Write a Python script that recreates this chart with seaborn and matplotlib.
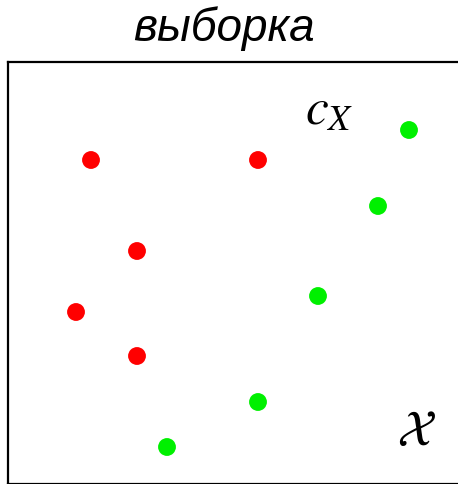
import matplotlib
matplotlib.use("Agg")
import matplotlib.pyplot as plt
import seaborn as sns
import pandas as pd

sns.set_style("white")
plt.rcParams['mathtext.fontset'] = 'stix'
plt.rcParams['text.color'] = 'black'

red_x = [91, 258, 137, 76, 137]
red_y = [161, 161, 252, 313, 357]
green_x = [409, 378, 318, 258, 167]
green_y = [131, 207, 297, 403, 448]

df = pd.DataFrame({
    "x": red_x + green_x,
    "y": red_y + green_y,
    "cls": ["red"] * len(red_x) + ["green"] * len(green_x),
})

W, H = 458, 485
fig = plt.figure(figsize=(W / 100, H / 100), dpi=100)
ax = fig.add_axes([8 / W, 0 / H, 456 / W, (485 - 63) / H])

sns.scatterplot(data=df, x="x", y="y", hue="cls",
                palette={"red": "#ff0000", "green": "#00f000"},
                s=165, edgecolor="none", legend=False, ax=ax)

ax.set_xlim(8, 464)
ax.set_ylim(485, 63)
ax.set_xticks([])
ax.set_yticks([])
ax.set_xlabel("")
ax.set_ylabel("")
for sp in ax.spines.values():
    sp.set_color("black")
    sp.set_linewidth(1.6)

fig.text(224 / W, 1 - 29 / H, "выборка", ha="center", va="center",
         fontsize=33, style="italic", family="Liberation Sans", color="black")
ax.text(329, 110, r"$c_X$", ha="center", va="center", fontsize=37, color="black")
ax.text(416, 431, r"$\mathcal{X}$", ha="center", va="center", fontsize=36, color="black")

fig.savefig("out.png", dpi=100)
